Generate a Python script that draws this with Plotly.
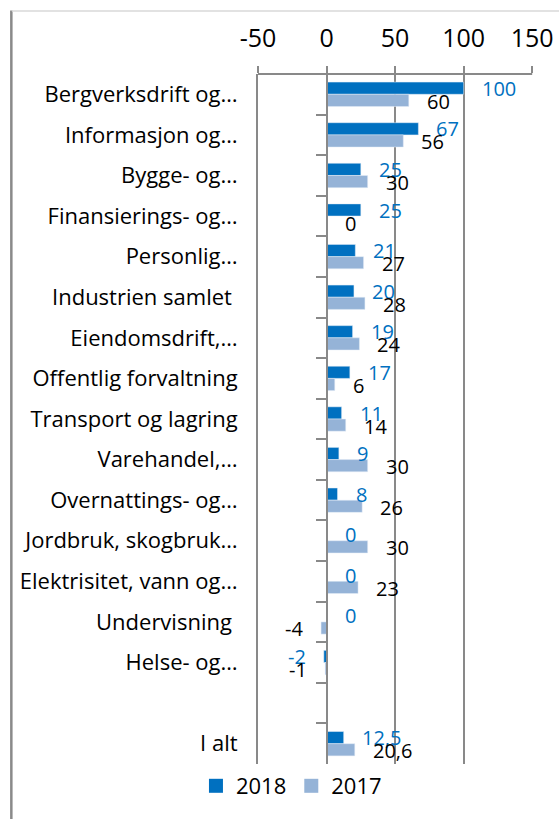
import plotly.graph_objects as go

categories = ["Bergverksdrift og…", "Informasjon og…", "Bygge- og…", "Finansierings- og…",
              "Personlig…", "Industrien samlet ", "Eiendomsdrift,…", "Offentlig forvaltning",
              "Transport og lagring", "Varehandel,…", "Overnattings- og…", "Jordbruk, skogbruk…",
              "Elektrisitet, vann og…", "Undervisning ", "Helse- og…", " ", "I alt"]
v2018 = [100, 67, 25, 25, 21, 20, 19, 17, 11, 9, 8, 0, 0, 0, -2, None, 12.5]
v2017 = [60, 56, 30, 0, 27, 28, 24, 6, 14, 30, 26, 30, 23, -4, -1, None, 20.6]
series_names = ["2018", "2017"]
x_ticks = [-50, 0, 50, 100, 150]
x_ticktext = ["-50", "0", "50", "100", "150"]

C18 = "#0070C0"
C17 = "#95B3D7"
GRID = "#898989"
FONT = "Open Sans"

W, H = 559, 819
XR = [-50, 150.6]
# pixel positions of -50 and 150 in the reference
P_LO, P_HI = 258, 532
SCALE = (P_HI - P_LO) / 200.0
ML = P_LO - (-50 - XR[0]) * SCALE
MR = W - (P_HI + (XR[1] - 150) * SCALE)
MT, MB = 74, 55
PW, PH = W - ML - MR, H - MT - MB
n = len(categories)
yr = [n - 0.5, -0.5]

fig = go.Figure()
fig.add_trace(go.Bar(x=v2018, y=categories, orientation="h", name=series_names[0],
                     marker=dict(color=C18), hoverinfo="skip", showlegend=False))
fig.add_trace(go.Bar(x=v2017, y=categories, orientation="h", name=series_names[1],
                     marker=dict(color=C17), hoverinfo="skip", showlegend=False))
# legend entries (square swatches)
for nm, col in zip(series_names, [C18, C17]):
    fig.add_trace(go.Scatter(x=[None], y=[None], mode="markers", name=nm,
                             marker=dict(symbol="square", size=14, color=col),
                             hoverinfo="skip"))
# invisible helper trace carrying the category axis drawn at x = 0
fig.add_trace(go.Scatter(x=[0] * n, y=categories, yaxis="y2", mode="markers",
                         marker=dict(opacity=0), showlegend=False, hoverinfo="skip"))


def fmt(v):
    return ("%g" % v).replace(".", ",")


annotations = []
for vals, color, ysh in [(v2018, C18, 6), (v2017, "#000000", -7)]:
    for cat, v in zip(categories, vals):
        if v is None:
            continue
        neg = v < 0
        annotations.append(dict(
            x=v, y=cat, xref="x", yref="y", text=fmt(v), showarrow=False,
            xanchor="right" if neg else "left", xshift=-16 if neg else 16,
            yshift=ysh, font=dict(family=FONT, size=20, color=color)))


def px_x(p):
    return (p - ML) / PW


def px_y(p):
    return (H - MB - p) / PH


shapes = [
    dict(type="line", xref="paper", yref="paper", x0=px_x(11.5), x1=px_x(11.5),
         y0=px_y(10.5), y1=px_y(H + 5), line=dict(color="#8a8a8a", width=2.5)),
    dict(type="line", xref="paper", yref="paper", x0=px_x(12), x1=px_x(W + 5),
         y0=px_y(11), y1=px_y(11), line=dict(color="#d9d9d9", width=1.5)),
    # top horizontal axis line spanning -50 .. 150
    dict(type="line", xref="x", yref="paper", x0=x_ticks[0], x1=x_ticks[-1],
         y0=1, y1=1, line=dict(color=GRID, width=2)),
]

fig.update_layout(
    width=W, height=H,
    margin=dict(l=ML, r=MR, t=MT, b=MB, pad=0, autoexpand=False),
    paper_bgcolor="white", plot_bgcolor="white",
    barmode="group", bargap=0.4, bargroupgap=0,
    font=dict(family=FONT, color="#000000"),
    xaxis=dict(side="top", range=XR, tickvals=x_ticks, ticktext=x_ticktext,
               showgrid=True, gridcolor=GRID, gridwidth=2, automargin=False,
               zeroline=False, showline=False,
               ticks="outside", ticklen=7, tickwidth=2, tickcolor=GRID,
               ticklabelstandoff=9,
               tickfont=dict(family=FONT, size=25, color="#000000")),
    yaxis=dict(type="category", categoryorder="array", categoryarray=categories,
               range=yr, showgrid=False, zeroline=False,
               showline=True, linecolor=GRID, linewidth=2, ticks="",
               ticklabelstandoff=14, automargin=False,
               tickfont=dict(family=FONT, size=22, color="#000000")),
    yaxis2=dict(type="category", categoryorder="array", categoryarray=categories,
                range=yr, overlaying="y", anchor="free", position=(0 - XR[0]) / (XR[1] - XR[0]),
                side="left", automargin=False,
                showgrid=False, zeroline=False, showline=True, linecolor=GRID, linewidth=2,
                ticks="outside", ticklen=10, tickwidth=2, tickcolor=GRID,
                tickson="boundaries", showticklabels=False),
    showlegend=True,
    legend=dict(orientation="h", x=px_x(196), xanchor="left", y=px_y(786), yanchor="middle",
                font=dict(family=FONT, size=22, color="#000000"),
                bgcolor="rgba(0,0,0,0)", traceorder="normal", itemwidth=30),
    annotations=annotations,
    shapes=shapes,
)

fig.write_html("out.html", config={"displayModeBar": False},
               post_script="document.body.style.margin='0';document.body.style.overflow='hidden';")
